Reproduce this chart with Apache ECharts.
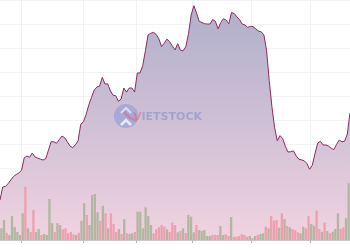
<!DOCTYPE html>
<html><head><meta charset="utf-8">
<script src="https://cdn.jsdelivr.net/npm/echarts@6/dist/echarts.min.js"></script>
<style>html,body{margin:0;padding:0;background:#fff}#c{width:350px;height:250px}</style>
</head><body><div id="c"></div>
<script>
// Closing price per trading day
const price = [5.00,6.63,6.68,7.04,7.50,7.93,8.19,8.38,8.71,10.28,
10.49,10.35,10.88,10.38,10.24,10.11,10.00,10.18,11.23,12.30,
12.26,12.09,12.54,12.99,12.79,12.29,11.75,11.53,11.90,12.40,
14.48,14.79,15.70,16.91,17.83,18.74,19.13,19.24,20.33,19.50,
19.53,18.65,18.10,18.03,17.33,17.63,19.00,18.49,19.00,19.00,
18.50,20.88,20.88,21.78,23.66,25.63,25.84,25.96,25.70,25.16,
24.18,24.60,25.11,24.80,24.26,23.75,24.54,23.74,23.64,24.15,
25.78,28.11,29.29,28.38,27.33,27.19,27.03,27.00,27.00,27.56,
27.33,26.40,27.19,27.66,27.48,27.04,28.44,28.31,27.89,27.53,
26.98,26.88,26.58,26.70,26.66,26.40,26.11,26.03,25.65,23.73,
19.94,16.65,14.04,12.40,13.04,12.69,11.69,10.99,11.04,11.14,
10.51,10.10,10.01,9.91,9.55,8.84,9.36,10.81,12.10,12.35,
11.88,11.88,11.75,11.48,11.30,11.95,12.50,12.28,12.35,13.25,15.88];
// Volume (thousand shares)
const volume = [585,1000,365,250,1200,650,400,250,1335,2665,
585,400,1500,400,550,250,300,250,2050,835,
400,835,750,535,585,335,400,285,250,365,
965,1835,1250,750,2250,2300,1385,965,1715,1335,
585,1335,800,400,550,300,1035,335,300,335,
400,1415,1415,585,1635,1200,750,335,535,635,
750,665,535,400,865,750,385,450,585,350,
1250,1165,385,750,500,450,500,200,200,250,
250,250,700,250,285,200,1150,165,165,200,
285,250,150,200,85,200,250,300,335,665,
585,1200,965,1000,615,1335,1050,700,635,550,
500,385,335,665,585,1200,800,715,1465,550,
415,865,450,335,415,550,1335,550,635,1085,2835];
// 1 = up day (grey-green bar), 0 = down day (pink bar)
const volumeUp = [1,1,0,1,1,1,1,1,1,0,
1,0,0,1,1,0,1,1,1,1,
0,1,1,0,0,0,0,0,1,0,
1,1,0,1,1,1,1,0,1,0,
1,0,0,0,1,0,1,0,1,1,
0,1,1,1,1,1,1,0,0,0,
0,0,1,0,0,0,1,0,1,0,
1,1,1,0,1,1,1,1,1,0,
0,0,1,1,0,0,1,0,0,0,
0,0,0,1,1,1,0,1,1,0,
1,0,0,0,1,0,1,0,1,0,
0,0,1,1,0,0,1,1,0,0,
1,0,1,0,1,1,1,0,0,1,1];
const firstDay = '2024-12-20';

// trading-day categories (weekdays)
const dates = [];
(function(){
  const d = new Date(firstDay + 'T00:00:00Z');
  while (dates.length < price.length) {
    const w = d.getUTCDay();
    if (w !== 0 && w !== 6) dates.push(d.toISOString().slice(0,10));
    d.setUTCDate(d.getUTCDate() + 1);
  }
})();
const isMonthStart = (i) => i > 0 && dates[i].slice(0,7) !== dates[i-1].slice(0,7);

const chart = echarts.init(document.getElementById('c'), null, {renderer:'canvas'});
chart.setOption({
  animation: false,
  backgroundColor: '#ffffff',
  grid: {left: 0, right: 0, top: 0, bottom: 10, containLabel: false},
  xAxis: [
    {type:'category', data: dates, boundaryGap: true,
     axisLine:{lineStyle:{color:'#c8c8c8', width:1}},
     axisTick:{show:true, interval: isMonthStart, length:3, lineStyle:{color:'#b8b8b8'}},
     axisLabel:{show:false},
     splitLine:{show:true, interval: isMonthStart, lineStyle:{color:'#f1f1f5', width:1}}},
    {type:'category', data: dates, boundaryGap: false, show:false}
  ],
  yAxis: [
    {type:'value', min:0, max:30, interval:3, axisLabel:{show:false}, axisLine:{show:false}, axisTick:{show:false},
     splitLine:{show:true, lineStyle:{color:'#f3f3f6', width:1}}},
    {type:'value', min:0, max:12000, show:false, splitLine:{show:false}}
  ],
  graphic: [
    {type:'circle', shape:{cx:126, cy:116, r:12}, style:{fill:'rgba(110,135,215,0.38)'}, z:10},
    {type:'polyline', shape:{points:[[121,125],[126,120],[131,125]]}, style:{stroke:'rgba(255,255,255,0.75)', lineWidth:2.5, fill:null}, z:11},
    {type:'polyline', shape:{points:[[121,113],[126,108],[131,113]]}, style:{stroke:'rgba(255,255,255,0.6)', lineWidth:2, fill:null}, z:11},
    {type:'polyline', shape:{points:[[124,112],[130,118],[137,121]]}, style:{stroke:'rgba(230,90,110,0.45)', lineWidth:2.5, fill:null}, z:11},
    {type:'text', x:133, y:117, style:{
      text:'{v|V}{t|IETSTOCK}',
      verticalAlign:'middle', align:'left',
      rich:{
        v:{fill:'rgba(230,90,110,0.45)', font:'bold 11px "DejaVu Sans"'},
        t:{fill:'rgba(95,115,195,0.38)', font:'bold 11px "DejaVu Sans"'}
      }}, z:11}
  ],
  series: [
    {type:'line', xAxisIndex:1, yAxisIndex:0, data: price, symbol:'none', z:1,
     lineStyle:{color:'#8a2d5b', width:1},
     areaStyle:{opacity:1, color: new echarts.graphic.LinearGradient(0,0,0,1,[
       {offset:0, color:'#afafcb'},
       {offset:0.5, color:'#cfc0d6'},
       {offset:1, color:'#f1d3df'}])}},
    {type:'bar', xAxisIndex:0, yAxisIndex:1, z:2, barCategoryGap:'12%',
     data: volume.map((v,i) => ({value:v, itemStyle:{color: volumeUp[i] ? '#b2b7a2' : '#eea0b1'}}))}
  ]
});
</script></body></html>
